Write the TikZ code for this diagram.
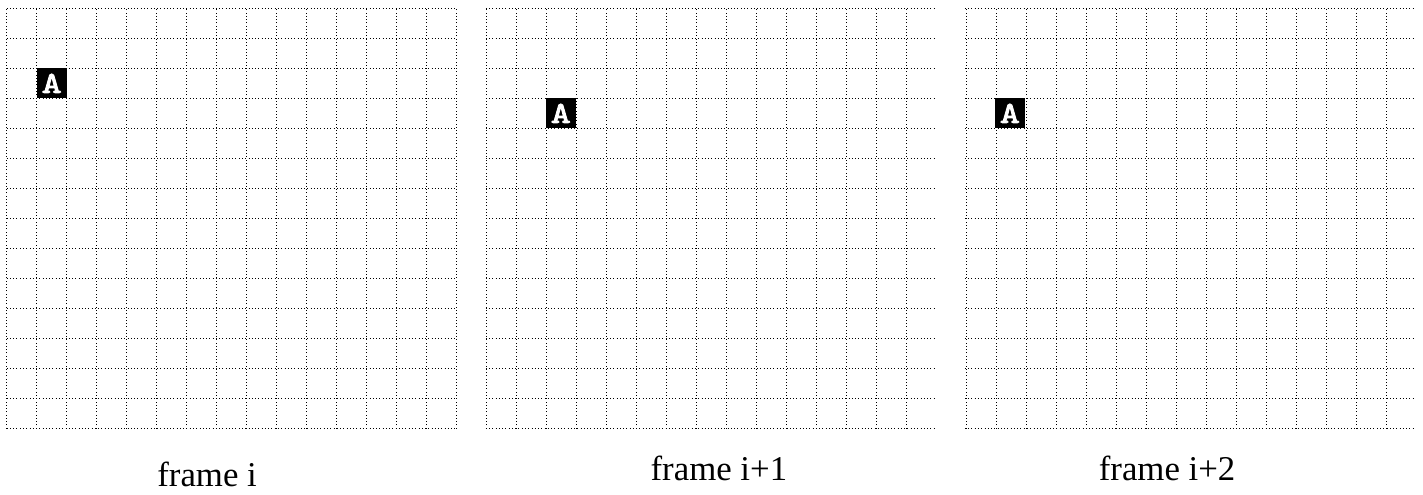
\documentclass[tikz,border=0pt]{standalone}
\usepackage{fontspec}
\setmainfont{Liberation Serif}
\newfontfamily\boxfont[FakeBold=3,FakeStretch=1.25]{lmmono10-regular.otf}
\tikzset{
    gridline/.style={line width=0.6pt, dash pattern=on 0.7pt off 2.4pt},
    abox/.style={fill=black, text=white, minimum size=1cm, inner sep=0pt,
        font=\boxfont\fontsize{29}{29}\selectfont},
    framelabel/.style={anchor=base, inner sep=0pt, font=\fontsize{33}{33}\selectfont}
}
\begin{document}
\begin{tikzpicture}
    \useasboundingbox (-0.223,-2.19) rectangle (47.21,14.28);

    \draw[gridline] (0,0) grid (15,14);
    \draw[gridline] (15.97,0) grid +(15,14);
    \draw[gridline] (31.94,0) grid +(15,14);

    \node[abox] (a1) at (1.5,11.5) {A};
    \node[abox] (a2) at (18.47,10.5) {A};
    \node[abox] (a3) at (33.44,10.5) {A};

    \node[framelabel] (lab1) at (6.68,-1.92) {frame i};
    \node[framelabel] (lab2) at (23.74,-1.75) {frame i+1};
    \node[framelabel] (lab3) at (38.68,-1.75) {frame i+2};

\end{tikzpicture}
\end{document}
